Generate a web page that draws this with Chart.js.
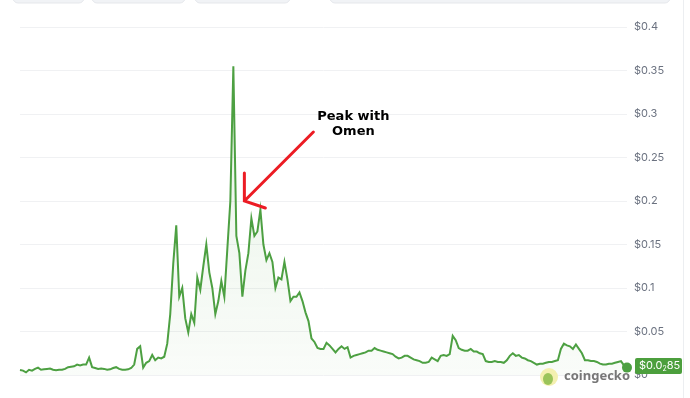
<!DOCTYPE html>
<html>
<head>
<meta charset="utf-8">
<script src="https://cdn.jsdelivr.net/npm/chart.js@4.4.1/dist/chart.umd.min.js"></script>
<style>
  html, body { margin: 0; padding: 0; background: #fff; }
  #wrap { position: relative; width: 690px; height: 398px; }
</style>
</head>
<body>
<div id="wrap"><canvas id="priceChart" width="690" height="398"></canvas></div>
<script>
// price history (USD), oldest first, evenly spaced
const earlyPrices = [
  0.0058, 0.005, 0.003, 0.006, 0.005, 0.007, 0.0085, 0.006, 0.0065, 0.007,
  0.0075, 0.006, 0.0055, 0.006, 0.006, 0.007, 0.009, 0.0095, 0.010, 0.012,
  0.011, 0.012, 0.012, 0.020, 0.009, 0.008, 0.007, 0.0075, 0.007, 0.006,
  0.0065, 0.008, 0.009, 0.007, 0.006, 0.006, 0.0065, 0.008, 0.012, 0.030,
  0.033, 0.0085, 0.014, 0.016, 0.023, 0.017, 0.020, 0.019, 0.021
];
const rallyPrices = [
  0.036, 0.070, 0.128, 0.172, 0.090, 0.100, 0.065, 0.049, 0.070, 0.060,
  0.112, 0.098, 0.125, 0.150, 0.118, 0.100, 0.070, 0.085, 0.108, 0.090,
  0.145, 0.200
];
const laterPrices = [
  0.355, 0.160, 0.140, 0.090, 0.120, 0.140, 0.180, 0.160, 0.165, 0.190,
  0.150, 0.132, 0.140, 0.130, 0.100, 0.112, 0.110, 0.130, 0.110, 0.085,
  0.090, 0.090, 0.095, 0.085, 0.072, 0.062, 0.042, 0.038, 0.031, 0.030,
  0.030, 0.037, 0.034, 0.030, 0.026, 0.030, 0.033, 0.030, 0.032, 0.020,
  0.022, 0.023, 0.024, 0.025, 0.026, 0.028, 0.028, 0.031, 0.029, 0.028,
  0.027, 0.026, 0.025, 0.024, 0.021, 0.019, 0.020, 0.022, 0.022, 0.020,
  0.018, 0.017, 0.016, 0.014, 0.014, 0.015, 0.020, 0.018, 0.016, 0.022,
  0.023, 0.022, 0.024, 0.045, 0.040, 0.031, 0.029, 0.028, 0.028, 0.030,
  0.027, 0.027, 0.025, 0.024, 0.016, 0.015, 0.015, 0.016, 0.015, 0.015,
  0.014, 0.017, 0.022, 0.025, 0.022, 0.023, 0.020, 0.019, 0.017, 0.016,
  0.014, 0.012, 0.013, 0.013, 0.014, 0.015, 0.015, 0.016, 0.017, 0.030,
  0.036, 0.034, 0.033, 0.030, 0.035, 0.030, 0.025, 0.017, 0.017, 0.016,
  0.016, 0.015, 0.013, 0.012, 0.012, 0.013, 0.013, 0.014, 0.015, 0.016,
  0.011, 0.0085
];
const prices = earlyPrices.concat(rallyPrices, laterPrices);
const labels = prices.map((p, i) => i);

const yTicks = [0, 0.05, 0.1, 0.15, 0.2, 0.25, 0.3, 0.35, 0.4];
const noteLines = ['Peak with', 'Omen'];
const noteAt = 75;        // index the arrow points at
const noteValue = 0.2;
const lastLabel = ['$0.0', '2', '85'];

const green = 'rgb(77, 160, 66)';

// extras drawn over the chart: top tabs, annotation, coingecko mark, price tag
const extras = {
  id: 'extras',
  afterDraw(chart) {
    const ctx = chart.ctx;
    const x = chart.scales.x, y = chart.scales.y;
    ctx.save();

    // faint tabs at the top edge
    ctx.fillStyle = '#f1f3f6';
    ctx.strokeStyle = '#e5e7eb';
    [[13, 84], [92, 185], [195, 290], [330, 670]].forEach(([a, b]) => {
      ctx.beginPath();
      ctx.roundRect(a, -10, b - a, 13, 5);
      ctx.fill();
      ctx.stroke();
    });
    // right border
    ctx.fillStyle = '#eceef1';
    ctx.fillRect(683, 0, 1, 398);

    // arrow
    const tx = x.getPixelForValue(noteAt) - 1;
    const ty = y.getPixelForValue(noteValue);
    ctx.strokeStyle = '#ec1c24';
    ctx.lineWidth = 3;
    ctx.lineCap = 'round';
    ctx.beginPath();
    ctx.moveTo(tx + 69, ty - 69);
    ctx.lineTo(tx + 1, ty - 1);
    ctx.moveTo(tx, ty - 28);
    ctx.lineTo(tx, ty);
    ctx.lineTo(tx + 21, ty + 7);
    ctx.stroke();

    ctx.fillStyle = '#000';
    ctx.font = 'bold 13px "DejaVu Sans"';
    ctx.textAlign = 'center';
    ctx.textBaseline = 'middle';
    noteLines.forEach((t, i) => ctx.fillText(t, tx + 109, ty - 84 + i * 15));

    // coingecko mark
    ctx.fillStyle = '#f4f0b0';
    ctx.beginPath();
    ctx.arc(549, 377, 9, 0, Math.PI * 2);
    ctx.fill();
    ctx.fillStyle = '#9bc45a';
    ctx.beginPath();
    ctx.ellipse(548, 379, 5, 6, 0, 0, Math.PI * 2);
    ctx.fill();
    ctx.fillStyle = '#777';
    ctx.font = 'bold 13px "Noto Sans"';
    ctx.textAlign = 'left';
    ctx.fillText('coingecko', 564, 376);

    // price tag at the last point
    const lx = 635, ly = 358;
    ctx.fillStyle = '#4c9f3d';
    ctx.beginPath();
    ctx.roundRect(lx, ly, 47, 16, 2);
    ctx.fill();
    ctx.fillStyle = '#fff';
    ctx.font = '11px Inter';
    let cx = lx + 4;
    ctx.fillText(lastLabel[0], cx, ly + 8);
    cx += ctx.measureText(lastLabel[0]).width;
    ctx.font = '7px Inter';
    ctx.fillText(lastLabel[1], cx, ly + 11);
    cx += ctx.measureText(lastLabel[1]).width;
    ctx.font = '11px Inter';
    ctx.fillText(lastLabel[2], cx, ly + 8);

    ctx.restore();
  }
};

const data = {
  labels: labels,
  datasets: [{
    label: 'Price',
    data: prices,
    borderColor: green,
    borderWidth: 2,
    tension: 0,
    fill: 'origin',
    backgroundColor: (c) => {
      const area = c.chart.chartArea;
      if (!area) return 'rgba(77,160,66,0.06)';
      const g = c.chart.ctx.createLinearGradient(0, area.top, 0, area.bottom);
      g.addColorStop(0, 'rgba(77,160,66,0.14)');
      g.addColorStop(1, 'rgba(77,160,66,0.03)');
      return g;
    },
    pointRadius: (c) => c.dataIndex === prices.length - 1 ? 5 : 0,
    pointBackgroundColor: green,
    pointBorderWidth: 0,
  }]
};

const config = {
  type: 'line',
  data: data,
  options: {
    responsive: false,
    animation: false,
    layout: { padding: { left: 20, top: 27, bottom: 23, right: 0 } },
    plugins: { legend: { display: false }, tooltip: { enabled: false } },
    scales: {
      x: { display: false, offset: false },
      y: {
        position: 'right',
        min: 0,
        max: 0.4,
        afterBuildTicks: (s) => { s.ticks = yTicks.map(v => ({ value: v })); },
        afterFit: (s) => { s.width = 63; },
        border: { display: false },
        grid: { color: '#f0f1f3', drawTicks: false, lineWidth: 1 },
        ticks: {
          padding: 7,
          color: '#6b7280',
          font: { family: 'Inter', size: 11 },
          callback: (v) => '$' + parseFloat(v.toFixed(2))
        }
      }
    }
  },
  plugins: [extras]
};

const priceChart = new Chart(document.getElementById('priceChart'), config);
</script>
</body>
</html>
